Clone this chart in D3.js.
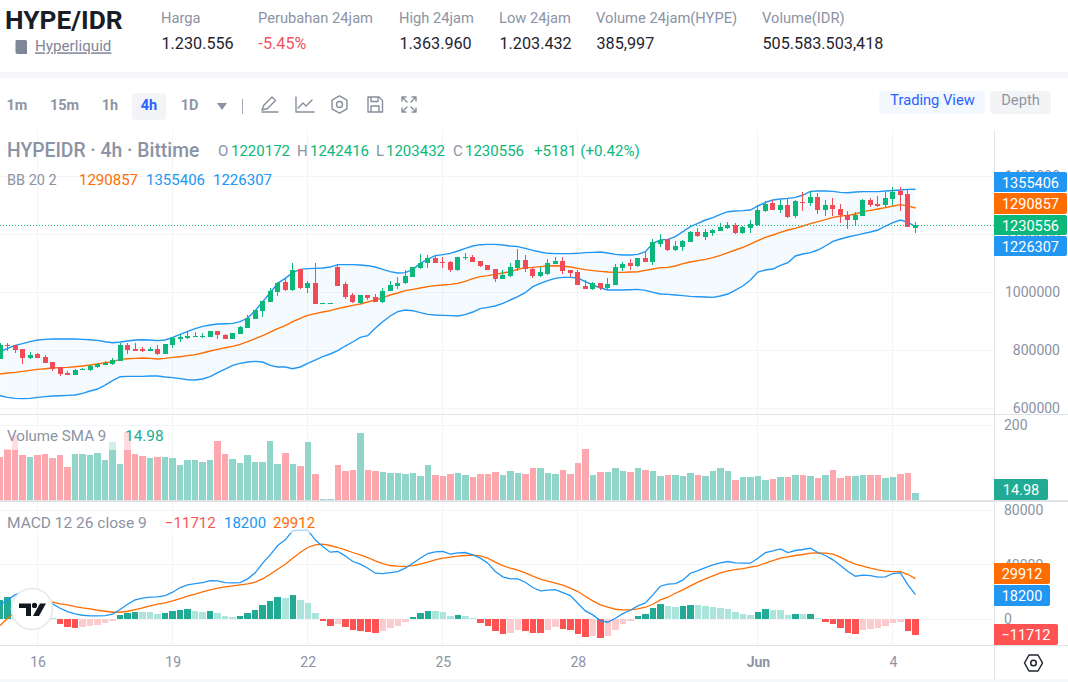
<!DOCTYPE html>
<html>
<head>
<meta charset="utf-8">
<title>HYPE/IDR</title>
<script src="https://d3js.org/d3.v7.min.js"></script>
<style>
  html, body { margin: 0; padding: 0; background: #fff; }
  svg { display: block; font-family: Roboto, "Noto Sans", sans-serif; }
</style>
</head>
<body>
<svg id="chart" width="1068" height="682"></svg>
<script>
// 4h candles, thousands of IDR
const opens = [770,819,817,804,773,787,777,760,741,722,
716,733,732,742,750,753,763,818,804,806,
798,804,787,818,839,842,846,847,846,867,
853,839,856,877,908,936,967,1001,1036,1008,
1080,1015,1032,962,962,1087,1029,991,963,991,
984,967,1004,1022,1032,1053,1084,1101,1118,1105,
1105,1077,1117,1122,1108,1094,1080,1046,1056,1084,
1111,1080,1056,1063,1098,1108,1077,1070,1022,1011,
1032,1015,1025,1084,1101,1091,1118,1105,1167,1184,
1146,1156,1173,1208,1191,1205,1211,1222,1232,1205,
1222,1232,1280,1308,1284,1301,1263,1311,1308,1329,
1284,1301,1287,1267,1249,1263,1318,1305,1301,1322,
1349,1339,1220.172];
const highs = [824,824,818,804,794,791,783,760,742,729,
736,739,749,756,763,773,825,825,825,811,
811,818,822,846,856,863,863,860,867,867,
856,860,884,922,939,970,1015,1036,1046,1101,
1080,1039,1101,962,962,1096,1036,998,991,991,
994,1015,1039,1053,1077,1087,1132,1129,1129,1122,
1108,1122,1136,1129,1108,1094,1080,1077,1101,1149,
1129,1087,1087,1115,1122,1122,1077,1077,1042,1036,
1032,1049,1098,1105,1115,1118,1139,1183,1201,1184,
1177,1180,1211,1222,1218,1218,1239,1242,1239,1229,
1249,1301,1315,1318,1318,1325,1318,1346,1349,1342,
1318,1325,1305,1280,1277,1322,1325,1332,1346,1364,
1363,1356,1242.416];
const lows = [770,799,792,753,770,773,755,730,711,715,
715,732,729,739,749,749,763,787,797,794,
797,784,787,808,830,839,846,844,846,839,
839,839,856,877,908,915,967,987,1004,1004,
1011,998,960,962,962,1022,977,963,960,973,
967,963,1004,1011,1029,1052,1080,1084,1101,1084,
1070,1073,1111,1105,1087,1077,1036,1046,1053,1073,
1070,1049,1053,1060,1098,1063,1053,1025,1011,1008,
1008,1008,1025,1073,1077,1087,1105,1094,1156,1142,
1142,1142,1173,1191,1180,1194,1211,1218,1201,1201,
1205,1229,1277,1284,1273,1256,1256,1280,1298,1270,
1263,1263,1239,1218,1229,1263,1294,1294,1291,1301,
1280,1225,1203.432];
const closes = [818,817,801,773,784,775,756,736,718,716,
732,737,747,753,756,767,818,801,798,798,
804,787,822,842,846,849,849,849,867,853,
839,860,880,911,939,970,1004,1032,1008,1077,
1015,1032,960,962,962,1022,983,967,991,980,
967,1004,1025,1032,1056,1087,1101,1118,1101,1101,
1077,1122,1121,1105,1091,1077,1046,1060,1087,1111,
1080,1056,1070,1101,1108,1073,1067,1025,1011,1032,
1015,1029,1087,1098,1091,1118,1105,1173,1180,1146,
1160,1177,1208,1194,1208,1215,1225,1232,1205,1225,
1236,1284,1305,1284,1301,1260,1315,1308,1329,1284,
1301,1287,1267,1249,1267,1318,1301,1298,1325,1346,
1336,1225,1230.556];

// Bollinger bands 20 2, thousands of IDR
const bbUpper = [795.3,806.8,817,822.8,829.7,835.5,837.8,838.9,838.9,838.9,
838.9,837.8,836.6,834.3,829.7,826.3,828.6,832,835.5,836.6,
835.5,833.2,835.5,844.7,855,865.4,874.6,882.6,887.2,890.6,
891.8,893,898.7,911.3,936.6,967.7,998.7,1030.9,1048.1,1067.7,
1079.2,1081.5,1082.6,1084,1087,1095.3,1095.3,1095.3,1094.1,1091.8,
1087.2,1079.2,1071.1,1066.5,1067.7,1079.2,1099.9,1114.8,1126.3,1129.8,
1134.4,1142.4,1151.6,1159.6,1164.2,1165.4,1165.4,1163.1,1159.6,1157.4,
1151.6,1144.7,1139,1134.4,1133.2,1133.2,1133.2,1134.4,1136.7,1137.8,
1139,1135.5,1130.9,1128.6,1128.6,1130.9,1140,1168.8,1180.3,1182.6,
1191.8,1209,1226.3,1237.8,1249.3,1257.3,1268.8,1278,1280.3,1281.5,
1283.8,1297.6,1310.2,1318.3,1321.7,1324,1327.4,1335.5,1348.1,1349.3,
1349.3,1348.1,1344.7,1343.5,1345.8,1347,1347,1347,1349.3,1351,
1353,1355,1355.406];
const bbBasis = [718.2,721.7,724,727.4,730.9,734.3,736.6,738.9,740.1,741.2,
743.5,745.8,749.3,752.7,757.3,760.8,768.8,771.1,772.3,773.4,
772.3,770,772.3,775.7,778,781.5,784.9,790.6,797.5,803.3,
809,813.6,820.5,829.7,840,850.4,863,874.6,885,898.7,
910.2,920.5,926.3,932,936.6,943.6,949.3,955,959.6,966.5,
973.4,981.5,990.7,997.6,1005.6,1010.2,1014.8,1019.4,1022.9,1025.2,
1027.5,1030.9,1037.8,1047,1053.9,1057.3,1061.9,1066.5,1071.1,1079.2,
1084.9,1086.1,1088.4,1090.7,1091.8,1090.7,1087.2,1082.6,1078,1074.6,
1072.3,1070,1068.8,1068.8,1070,1071.1,1075.7,1080.3,1084.9,1086.1,
1090.7,1098.7,1104.5,1109.1,1113.7,1119.4,1127.5,1136.7,1145.8,1155,
1166.5,1178,1189.5,1197.6,1206.8,1214.8,1220.6,1228.6,1236.6,1243.5,
1250.4,1258.5,1263.1,1265.4,1270,1278,1282.6,1287.2,1291.8,1297.6,
1302.2,1298,1290.857];
const bbLower = [643.5,637.8,634.3,633.2,634.3,637.8,640.1,642.4,643.5,644.7,
645.8,651.6,659.6,666.5,680.3,695.2,709,710.2,710.2,710.2,
711.3,711.3,707.9,705.6,702.2,698.7,697.6,701,709,722.8,
735.5,748.1,755,759.6,761.9,759.6,748.1,742.4,742.4,736.6,
742.4,755,766.5,778,787.2,798.7,814.8,828.6,844.7,850.4,
875.7,898.7,918.3,933.2,939,936.6,929.8,924,921.7,920.6,
919.4,918.3,922.9,932,943.6,948.2,952.8,962,973.4,984.9,
998.7,1019.4,1030.9,1040.1,1048.2,1051.6,1051.6,1049.3,1036.7,1025.2,
1014.8,1007.9,1007.9,1007.9,1009,1010.2,1006.8,999.9,994.1,993,
990.7,988.4,986.1,984.9,983.8,982.6,987.2,994.1,1007.9,1021.7,
1042.4,1070,1076.9,1080.3,1093,1102.2,1125.2,1132,1136.6,1145.8,
1159.6,1175.7,1183.8,1190.7,1196.4,1202.2,1207.9,1214.8,1228.6,1240.1,
1249.3,1241.2,1226.307];

// Traded volume per candle, HYPE thousands
const volumes = [113.6,135.4,173.5,119,113.6,119,121.8,110.9,119,86.4,
121.8,121.8,119,124.5,105.4,155,94.5,182.6,121.8,116.3,
110.9,113.6,113.6,110.9,91.8,105.4,105.4,100,105.4,157,
121.8,108.1,97.2,119,100,100,157,94.5,124.5,94.5,
89,154.5,67.3,0.5,0.5,91.8,75.5,78.2,179,78.2,
75.5,72.7,70,70,67.3,70,61.8,91.8,64.6,61.8,
67.3,70,64.6,59.1,67.3,67.3,72.7,64.6,75.5,70,
67.3,83.6,83.6,70,67.3,78.2,67.3,97.2,135.4,64.6,
72.7,72.7,83.6,75.5,72.7,83.6,78.2,75.5,61.8,64.6,
64.6,61.8,70,64.6,61.8,75.5,83.6,75.5,51,59.1,
59.1,61.8,51,53.7,59.1,59.1,64.6,64.6,61.8,56.4,
64.6,78.2,56.4,61.8,61.8,64.6,64.6,64.6,56.4,59.1,
67.3,70,14.98];
// The opening bar closed below the previous candle although its body is green
const volumeDownExtra = [0];

// MACD 12 26 close 9, IDR
const macdLine = [10633,14304,17974,19932,19932,17485,14304,11367,8186,5739,
4026,3047,2558,2558,2803,3781,7207,11122,14304,15527,
16261,16506,17485,19932,23357,25315,26294,27028,28495,28251,
27028,26783,27028,29720,34124,41220,47338,54190,58350,64956,
65446,65446,58350,53455,49296,49785,46604,42444,40486,37550,
33879,33635,34369,35103,37550,41220,44891,48317,49540,49785,
47827,48806,49051,47338,44891,41220,35103,31188,29720,29720,
27273,23357,20910,21400,21889,19687,17485,11856,6228,3292,
-868,-2091,845,4270,6718,9899,12101,17974,24336,25804,
26294,28741,33879,35837,38039,39997,41465,42444,41465,41220,
41220,44891,49051,50274,51743,49051,50519,51253,52232,49051,
46849,43668,39508,35103,31677,32412,32167,30943,31188,33635,
34124,25315,18200];
const macdSignal = [-4538,843,5250,8675,11122,12591,13080,12591,11367,10633,
9410,8431,7697,6718,5983,5250,5250,5983,7207,8431,
9899,11122,12101,13569,15282,17015,18464,20176,21644,22868,
23847,24581,25315,26049,27273,29720,33145,36816,40486,44891,
49051,52721,54679,55168,54190,52721,51008,49051,47338,45380,
42933,40976,39508,39018,38774,39508,40486,41955,43668,44891,
45625,46359,46849,47093,46604,44891,41955,39508,37550,36082,
34124,31677,29475,28007,26538,25070,22868,20421,16995,13569,
10633,8920,7451,6962,6962,7697,8920,11122,14304,16261,
19197,21644,24581,27273,29720,31922,34124,35575,36572,37305,
38284,39263,41220,43178,44891,45870,46849,47583,48561,48806,
48561,47827,45625,42689,40486,39018,37550,36326,35347,35103,
35103,32900,29912];
const macdHist = [14437,16150,13214,10767,8320,4649,2202,979,-3181,-5383,
-6118,-5383,-4649,-3915,-2447,-979,3426,4894,5628,5628,
5628,4160,4894,6362,7096,7341,6362,5628,5873,4894,
2692,1958,2692,4894,7096,10767,13703,16640,15906,18108,
14437,12235,4894,-979,-4649,-3181,-5383,-7586,-8320,-9054,
-9788,-8320,-6118,-4649,-1713,1958,4894,6362,6362,5628,
2692,2936,2692,1224,-2447,-4649,-8320,-10522,-9788,-7586,
-8320,-9788,-9788,-7586,-5383,-6852,-7586,-10522,-12724,-12480,
-13459,-11990,-7586,-3181,-979,2692,4160,8565,11501,10033,
9054,9788,10522,10522,9788,9054,8320,7586,5383,3915,
3181,5383,7586,6852,6852,3181,3915,3915,4160,979,
-1958,-3426,-6362,-10033,-10767,-7830,-7096,-6362,-4894,-2692,
-1958,-8565,-11712];

// Axis ticks and time labels
const priceTicks = [600, 800, 1000, 1200, 1400];
const volumeTicks = [200];
const macdTicks = [0, 40000, 80000];
const timeTickBars = [5, 23, 41, 59, 77, 101, 119];
const timeTickLabels = ["16", "19", "22", "25", "28", "Jun", "4"];

// Header figures
const statLabels = ["Harga", "Perubahan 24jam", "High 24jam", "Low 24jam", "Volume 24jam(HYPE)", "Volume(IDR)"];
const statValues = ["1.230.556", "-5.45%", "1.363.960", "1.203.432", "385,997", "505.583.503,418"];
const statColumns = [161, 258, 399, 499, 596, 762];
const intervals = ["1m", "15m", "1h", "4h", "1D"];
const intervalCenters = [17, 64.5, 110, 149, 189.5];

const GREEN = "#0bb87a", RED = "#f04c58", BLUE = "#2196f3", ORANGE = "#ff6d00",
      TEAL = "#22ab94", MUTED = "#8b93a4", GRID = "#f3f4f6", RULE = "#e0e3e8";

const svg = d3.select("#chart");
const bars = d3.range(closes.length);
const paneRight = 994;

const x = d3.scaleLinear().domain([5, 119]).range([37.6, 892.95]);
const yPrice = d3.scaleLinear().domain([600, 1400]).range([408.3, 176.3]);
const yVolume = d3.scaleLinear().domain([0, 200]).range([498.7, 425.3]);
const yMacd = d3.scaleLinear().domain([0, 80000]).range([619.4, 510.3]);

function label(parent, tx, ty, str, o = {}) {
  return parent.append("text").attr("x", tx).attr("y", ty).attr("dy", "0.35em")
    .attr("fill", o.fill || MUTED).attr("font-size", o.size || 14)
    .attr("font-weight", o.weight || 400).attr("text-anchor", o.anchor || "start")
    .text(str);
}

/* ---------- page header ---------- */
const head = svg.append("g");
label(head, 5, 20, "HYPE/IDR", { fill: "#1a1d26", size: 26.3, weight: 700 });
label(head, 35, 46, "Hyperliquid", { fill: "#7f8797", size: 15.2 }).attr("text-decoration", "underline");
head.append("path").attr("d", "M16 40h9.5a1.5 1.5 0 0 1 1.5 1.5V54H17.5a2 2 0 0 1-2-2V41z").attr("fill", "#7f8797");

statLabels.forEach((s, i) => {
  label(head, statColumns[i], 18, s, { fill: MUTED, size: 14.7 });
  label(head, statColumns[i] + 0.5, 43, statValues[i], {
    fill: i === 1 ? "#f0535f" : "#1f2430", size: 16.2
  });
});

svg.append("rect").attr("x", 0).attr("y", 72).attr("width", 1068).attr("height", 6).attr("fill", "#f5f7fa");
svg.append("rect").attr("x", 0).attr("y", 679).attr("width", 1068).attr("height", 3).attr("fill", "#f5f7fa");

/* ---------- toolbar ---------- */
const bar = svg.append("g");
bar.append("rect").attr("x", 132).attr("y", 93).attr("width", 34).attr("height", 27).attr("rx", 4).attr("fill", "#f3f4f7");
intervals.forEach((s, i) => {
  label(bar, intervalCenters[i], 104.5, s, {
    anchor: "middle", size: 14.5, weight: 700, fill: s === "4h" ? "#2962ff" : "#8f96a3"
  });
});
bar.append("path").attr("d", "M217 103h10l-5 7z").attr("fill", "#8b93a4");
bar.append("line").attr("x1", 242.5).attr("x2", 242.5).attr("y1", 99).attr("y2", 114).attr("stroke", "#a5abb6");

const icon = bar.append("g").attr("fill", "none").attr("stroke", "#868e9c").attr("stroke-width", 1.4)
  .attr("stroke-linejoin", "round").attr("stroke-linecap", "round");
icon.append("path").attr("d", "M262 110l2-5 8-8 3.5 3.5-8 8-5.5 1.5zM262 112h16");
icon.append("path").attr("d", "M296 97v15h18M298 108l5-5 3 3 6-6");
icon.append("circle").attr("cx", 339.5).attr("cy", 104.5).attr("r", 3);
icon.append("path").attr("d", d3.range(0, 7).map(k => {
  const a = k * Math.PI / 3 + Math.PI / 6;
  return `${k ? "L" : "M"}${339.5 + 8.6 * Math.cos(a)} ${104.5 + 8.6 * Math.sin(a)}`;
}).join(""));
icon.append("path").attr("d", "M368 97h11l3.5 3.5V112h-14.5zM371 97v4.5h7V97M371 112v-6h8v6");
icon.append("path").attr("d", "M402 101v-4h4M416 101v-4h-4M402 108v4h4M416 108v4h-4M403 98l4 4M415 98l-4 4M403 111l4-4M415 111l-4-4");

bar.append("rect").attr("x", 879).attr("y", 91).attr("width", 106).attr("height", 23).attr("rx", 4).attr("fill", "#f3f7fe");
label(bar, 932.5, 100, "Trading View", { anchor: "middle", fill: "#2962ff", size: 14.7 });
bar.append("rect").attr("x", 990).attr("y", 91).attr("width", 61).attr("height", 23).attr("rx", 4).attr("fill", "#f3f4f6");
label(bar, 1020.5, 100, "Depth", { anchor: "middle", fill: "#8f96a3", size: 14.7 });

/* ---------- grid and pane rules ---------- */
const grid = svg.append("g").attr("stroke", GRID).attr("stroke-width", 1).attr("shape-rendering", "crispEdges");
timeTickBars.forEach(b => {
  grid.append("line").attr("x1", x(b)).attr("x2", x(b)).attr("y1", 130).attr("y2", 645);
});
[[yPrice, priceTicks], [yVolume, volumeTicks], [yMacd, macdTicks]].forEach(([scale, ticks]) => {
  ticks.forEach(t => grid.append("line").attr("x1", 0).attr("x2", paneRight).attr("y1", scale(t)).attr("y2", scale(t)));
});

/* ---------- price pane: bands and candles ---------- */
const bandArea = d3.area().x(i => x(i)).y0(i => yPrice(bbLower[i])).y1(i => yPrice(bbUpper[i]));
svg.append("path").attr("d", bandArea(bars)).attr("fill", BLUE).attr("fill-opacity", 0.05);

const priceLine = arr => d3.line().x(i => x(i)).y(i => yPrice(arr[i]))(bars);
[[bbUpper, BLUE], [bbLower, BLUE], [bbBasis, ORANGE]].forEach(([arr, c]) => {
  svg.append("path").attr("d", priceLine(arr)).attr("fill", "none").attr("stroke", c).attr("stroke-width", 1.4);
});

const candle = svg.append("g").selectAll("g").data(bars).join("g")
  .attr("fill", i => closes[i] >= opens[i] ? GREEN : RED).attr("shape-rendering", "crispEdges");
candle.append("rect")
  .attr("x", i => Math.floor(x(i)))
  .attr("width", 1)
  .attr("y", i => yPrice(highs[i]))
  .attr("height", i => yPrice(lows[i]) - yPrice(highs[i]));
candle.append("rect")
  .attr("x", i => Math.floor(x(i)) - 2)
  .attr("width", 5)
  .attr("y", i => yPrice(Math.max(opens[i], closes[i])))
  .attr("height", i => Math.max(1, Math.abs(yPrice(opens[i]) - yPrice(closes[i]))));

svg.append("line").attr("x1", 0).attr("x2", paneRight)
  .attr("y1", yPrice(closes[closes.length - 1])).attr("y2", yPrice(closes[closes.length - 1]))
  .attr("stroke", GREEN).attr("stroke-dasharray", "1 2");

/* ---------- histogram columns share one layout: 1px gap, whole-pixel edges ---------- */
const colLeft = i => Math.round(x(i) - 3.2);
const colWidth = i => colLeft(i + 1) - colLeft(i) - 1;

/* ---------- volume pane ---------- */
const volumeBase = 500;
svg.append("g").selectAll("rect").data(bars).join("rect")
  .attr("x", colLeft)
  .attr("width", colWidth)
  .attr("y", i => yVolume(volumes[i]))
  .attr("height", i => volumeBase - yVolume(volumes[i]))
  .attr("shape-rendering", "crispEdges")
  .attr("fill", i => (closes[i] < opens[i] || volumeDownExtra.includes(i)) ? "#fca8ae" : "#90d5c9");

/* ---------- MACD pane ---------- */
svg.append("g").selectAll("rect").data(bars).join("rect")
  .attr("x", colLeft)
  .attr("width", colWidth)
  .attr("y", i => Math.min(yMacd(macdHist[i]), yMacd(0)))
  .attr("height", i => Math.abs(yMacd(macdHist[i]) - yMacd(0)))
  .attr("shape-rendering", "crispEdges")
  .attr("fill", (i) => {
    const rising = i > 0 && macdHist[i - 1] < macdHist[i];
    if (macdHist[i] >= 0) return (rising || i === 0) ? "#22ab94" : "#ace5dc";
    return rising ? "#fccbcd" : "#ff5252";
  });

const macdPath = arr => d3.line().x(i => x(i)).y(i => yMacd(arr[i]))(bars);
svg.append("path").attr("d", macdPath(macdSignal)).attr("fill", "none").attr("stroke", ORANGE).attr("stroke-width", 1.3);
svg.append("path").attr("d", macdPath(macdLine)).attr("fill", "none").attr("stroke", BLUE).attr("stroke-width", 1.3);

/* ---------- pane separators and axes ---------- */
const rules = svg.append("g").attr("fill", RULE).attr("shape-rendering", "crispEdges");
rules.append("rect").attr("x", 0).attr("y", 414).attr("width", 1068).attr("height", 1);
rules.append("rect").attr("x", 0).attr("y", 500).attr("width", 1068).attr("height", 2);
rules.append("rect").attr("x", 0).attr("y", 645).attr("width", 1068).attr("height", 1);
rules.append("rect").attr("x", 994).attr("y", 130).attr("width", 1).attr("height", 549);

function styleAxis(g, anchor) {
  g.select(".domain").remove();
  g.selectAll(".tick line").remove();
  g.selectAll("text").attr("fill", MUTED).attr("font-size", 14)
    .attr("font-family", "Roboto, 'Noto Sans', sans-serif").attr("text-anchor", anchor);
}
svg.append("g").attr("transform", "translate(1060,0)")
  .call(d3.axisLeft(yPrice).tickValues(priceTicks).tickSize(0).tickPadding(0).tickFormat(d => String(d * 1000)))
  .call(g => styleAxis(g, "end"));
svg.append("g").attr("transform", "translate(1004,0)")
  .call(d3.axisRight(yVolume).tickValues(volumeTicks).tickSize(0).tickPadding(0))
  .call(g => styleAxis(g, "start"));
svg.append("g").attr("transform", "translate(1004,0)")
  .call(d3.axisRight(yMacd).tickValues(macdTicks).tickSize(0).tickPadding(0).tickFormat(d => String(d)))
  .call(g => styleAxis(g, "start"));
svg.append("g").attr("transform", "translate(0,657.5)")
  .call(d3.axisBottom(x).tickValues(timeTickBars).tickSize(0).tickPadding(0)
    .tickFormat((d, k) => timeTickLabels[k]))
  .call(g => styleAxis(g, "middle"))
  .call(g => g.selectAll("text").attr("font-weight", (d, k) => timeTickLabels[k] === "Jun" ? 700 : 400));

/* ---------- value tags on the right axis ---------- */
function tag(top, bottom, right, fill, str) {
  const g = svg.append("g");
  g.append("path").attr("fill", fill)
    .attr("d", `M994 ${top}H${right - 2}a2 2 0 0 1 2 2V${bottom - 2}a2 2 0 0 1 -2 2H994z`);
  label(g, (994 + right) / 2, (top + bottom) / 2 + 0.5, str, { fill: "#fff", size: 14.5, anchor: "middle" });
}
tag(172, 192, 1067, BLUE, "1355406");
tag(193, 214, 1067, ORANGE, "1290857");
tag(215, 235, 1067, GREEN, "1230556");
tag(236, 256, 1067, BLUE, "1226307");
tag(479, 500, 1048, TEAL, "14.98");
tag(563, 584, 1050, ORANGE, "29912");
tag(585, 606, 1050, BLUE, "18200");
tag(624, 645, 1058, "#ff5252", "\u221211712");

/* ---------- pane legends ---------- */
const legend = svg.append("g");
label(legend, 7, 150, "HYPEIDR \u00b7 4h \u00b7 Bittime", { size: 19.3, weight: 500 });
[["O", 218, 231, "1220172"], ["H", 297, 310, "1242416"], ["L", 376, 386, "1203432"], ["C", 453, 465, "1230556"]].forEach(([k, px, vx, v]) => {
  label(legend, px, 151, k, { size: 15 });
  label(legend, vx, 151, v, { size: 15, fill: GREEN });
});
label(legend, 534, 151, "+5181 (+0.42%)", { size: 15.1, fill: GREEN });
label(legend, 7, 179.5, "BB 20 2", { size: 14.5 });
label(legend, 79, 179.5, "1290857", { size: 15, fill: ORANGE });
label(legend, 146, 179.5, "1355406", { size: 15, fill: BLUE });
label(legend, 213, 179.5, "1226307", { size: 15, fill: BLUE });

legend.append("rect").attr("x", 3).attr("y", 427).attr("width", 163).attr("height", 23).attr("fill", "#fff").attr("fill-opacity", 0.6);
label(legend, 7, 436, "Volume SMA 9", { size: 15.1 });
label(legend, 125, 436, "14.98", { size: 15.4, fill: TEAL });

legend.append("rect").attr("x", 3).attr("y", 513).attr("width", 315).attr("height", 20).attr("fill", "#fff").attr("fill-opacity", 0.6);
label(legend, 7, 523, "MACD 12 26 close 9", { size: 15.5 });
label(legend, 165, 523, "\u221211712", { size: 15, fill: "#ff5252" });
label(legend, 224, 523, "18200", { size: 15, fill: BLUE });
label(legend, 273, 523, "29912", { size: 15, fill: ORANGE });

/* ---------- attribution badge and settings icon ---------- */
const badge = svg.append("g").attr("transform", "translate(32,609)");
badge.append("circle").attr("r", 20.5).attr("fill", "#fff").attr("stroke", "#e3e8ee").attr("stroke-width", 1.5);
badge.append("path").attr("fill", "#131722")
  .attr("d", "M-13-5.5H-1V7H-6V-1H-13zM2.5-1a2.6 2.6 0 1 0 0-5.2a2.6 2.6 0 0 0 0 5.2zM8-5.5H14L7 7H1z");

const settings = svg.append("g").attr("transform", "translate(1033.5,663)")
  .attr("fill", "none").attr("stroke", "#1f2430").attr("stroke-width", 1.5).attr("stroke-linejoin", "round");
settings.append("path").attr("d", "M-9 0L-4.5-8H4.5L9 0L4.5 8H-4.5z");
settings.append("circle").attr("r", 2.8);
</script>
</body>
</html>
